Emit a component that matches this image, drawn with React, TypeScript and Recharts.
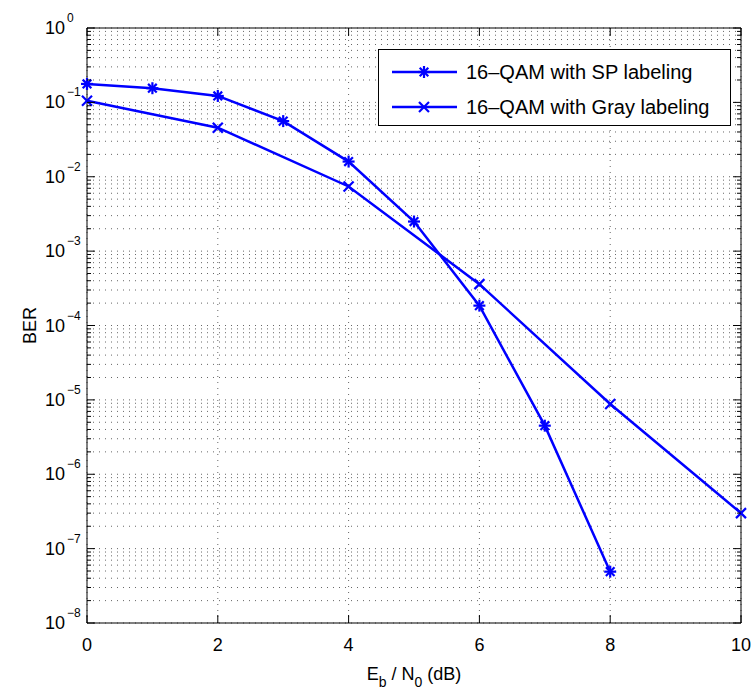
import React from "react";
import { LineChart, Line, XAxis, YAxis, CartesianGrid, Legend } from "recharts";

// Eb/N0 (dB) and BER
const spSnr = [0, 1, 2, 3, 4, 5, 6, 7, 8];
const spBer = [0.177, 0.155, 0.122, 0.056, 0.016, 0.0025, 1.85e-4, 4.5e-6, 4.9e-8];
const graySnr = [0, 2, 4, 6, 8, 10];
const grayBer = [0.105, 0.0457, 0.0074, 3.6e-4, 8.8e-6, 3.0e-7];

const seriesNames = ["16–QAM with SP labeling", "16–QAM with Gray labeling"];
const xTicks = [0, 2, 4, 6, 8, 10];
const yExponents = [-8, -7, -6, -5, -4, -3, -2, -1, 0];
const minorMantissas = [1, 2, 3, 4, 5, 6, 7, 8, 9];

const BLUE = "#0000ff";
const FONT = "'Liberation Sans', Arial, Helvetica, sans-serif";

const spData = spSnr.map((x, i) => ({ x, ber: spBer[i] }));
const grayData = graySnr.map((x, i) => ({ x, ber: grayBer[i] }));

// every log tick: 1..9 x 10^k, plus the top decade
const yTicks: number[] = [];
yExponents.forEach((e) => {
  if (e === 0) {
    yTicks.push(1);
    return;
  }
  minorMantissas.forEach((m) => yTicks.push(Number(`${m}e${e}`)));
});

const decadeOf = (v: number) => {
  const l = Math.log10(v);
  return Math.abs(l - Math.round(l)) < 1e-6 ? Math.round(l) : null;
};

function Asterisk({ cx, cy, r = 6 }: { cx: number; cy: number; r?: number }) {
  const d = r * 0.72;
  return (
    <g stroke={BLUE} strokeWidth={2.2}>
      <line x1={cx} y1={cy - r} x2={cx} y2={cy + r} />
      <line x1={cx - r} y1={cy} x2={cx + r} y2={cy} />
      <line x1={cx - d} y1={cy - d} x2={cx + d} y2={cy + d} />
      <line x1={cx - d} y1={cy + d} x2={cx + d} y2={cy - d} />
    </g>
  );
}

function Cross({ cx, cy, r = 5 }: { cx: number; cy: number; r?: number }) {
  return (
    <g stroke={BLUE} strokeWidth={2.2}>
      <line x1={cx - r} y1={cy - r} x2={cx + r} y2={cy + r} />
      <line x1={cx - r} y1={cy + r} x2={cx + r} y2={cy - r} />
    </g>
  );
}

function LeftTick(props: any) {
  const { x, y, payload } = props;
  const dec = decadeOf(payload.value);
  const major = dec !== null;
  return (
    <g>
      <line x1={x} x2={x + (major ? 8 : 4)} y1={y} y2={y} stroke="#000" />
      {major && (
        <g fontFamily={FONT} fill="#000">
          <text x={x - 22} y={y} textAnchor="end" dominantBaseline="central" fontSize={18}>
            10
          </text>
          <text x={x - 20} y={y - 10} textAnchor="start" dominantBaseline="central" fontSize={12}>
            {dec < 0 ? `−${-dec}` : `${dec}`}
          </text>
        </g>
      )}
    </g>
  );
}

function RightTick(props: any) {
  const { x, y, payload } = props;
  const major = decadeOf(payload.value) !== null;
  return <line x1={x} x2={x - (major ? 8 : 4)} y1={y} y2={y} stroke="#000" />;
}

function BottomTick(props: any) {
  const { x, y, payload } = props;
  return (
    <g>
      <line x1={x} x2={x} y1={y} y2={y - 8} stroke="#000" />
      <text x={x} y={y + 22} textAnchor="middle" dominantBaseline="central" fontSize={18} fontFamily={FONT} fill="#000">
        {payload.value}
      </text>
    </g>
  );
}

function TopTick(props: any) {
  const { x, y } = props;
  return <line x1={x} x2={x} y1={y} y2={y + 8} stroke="#000" />;
}

function XTitle(props: any) {
  const { x, y, width } = props.viewBox;
  return (
    <text x={x + width / 2} y={y + 57} textAnchor="middle" fontSize={18} fontFamily={FONT} fill="#000">
      <tspan>E</tspan>
      <tspan fontSize={14} dy={7}>b</tspan>
      <tspan dy={-7}> / N</tspan>
      <tspan fontSize={14} dy={7}>0</tspan>
      <tspan dy={-7}> (dB)</tspan>
    </text>
  );
}

function YTitle(props: any) {
  const { x, y, height } = props.viewBox;
  const cx = x + 30;
  const cy = y + height / 2;
  return (
    <text x={cx} y={cy} transform={`rotate(-90 ${cx} ${cy})`} textAnchor="middle" dominantBaseline="central" fontSize={18} fontFamily={FONT} fill="#000">
      BER
    </text>
  );
}

function LegendBox() {
  const rows = [
    { name: seriesNames[0], Mark: Asterisk, y: 23 },
    { name: seriesNames[1], Mark: Cross, y: 58 },
  ];
  return (
    <svg width={354} height={78} style={{ display: "block" }}>
      <rect x={0.5} y={0.5} width={352} height={76} fill="#fff" stroke="#000" />
      {rows.map(({ name, Mark, y }) => (
        <g key={name}>
          <line x1={14} x2={79} y1={y} y2={y} stroke={BLUE} strokeWidth={2.5} />
          <Mark cx={46} cy={y} />
          <text x={88} y={y} dominantBaseline="central" fontSize={20} fontFamily={FONT} fill="#000">
            {name}
          </text>
        </g>
      ))}
    </svg>
  );
}

export default function App() {
  return (
    <div style={{ position: "absolute", left: 0, top: 0, fontFamily: FONT, background: "#fff" }}>
      <LineChart width={752} height={692} margin={{ top: 27, right: 10, bottom: 0, left: 0 }}>
        <CartesianGrid stroke="#666" strokeDasharray="1 5" />
        <XAxis
          type="number"
          dataKey="x"
          domain={[0, 10]}
          ticks={xTicks}
          interval={0}
          height={69}
          tickSize={0}
          tickMargin={0}
          tickLine={false}
          axisLine={{ stroke: "#000" }}
          tick={<BottomTick />}
          label={{ content: XTitle }}
        />
        <XAxis
          xAxisId="top"
          orientation="top"
          type="number"
          dataKey="x"
          domain={[0, 10]}
          ticks={xTicks}
          interval={0}
          height={1}
          tickSize={0}
          tickMargin={0}
          tickLine={false}
          axisLine={{ stroke: "#000" }}
          tick={<TopTick />}
        />
        <YAxis
          type="number"
          scale="log"
          domain={[1e-8, 1]}
          ticks={yTicks}
          interval={0}
          width={87}
          tickSize={0}
          tickMargin={0}
          tickLine={false}
          axisLine={{ stroke: "#000" }}
          tick={<LeftTick />}
          label={{ content: YTitle }}
        />
        <YAxis
          yAxisId="right"
          orientation="right"
          type="number"
          scale="log"
          domain={[1e-8, 1]}
          ticks={yTicks}
          interval={0}
          width={1}
          tickSize={0}
          tickMargin={0}
          tickLine={false}
          axisLine={{ stroke: "#000" }}
          tick={<RightTick />}
        />
        <Legend
          layout="vertical"
          align="center"
          verticalAlign="middle"
          wrapperStyle={{ left: 378, top: 49 }}
          content={() => <LegendBox />}
        />
        {/* both x axes and both y axes share one domain; each series is bound
            to one of the mirrored axes so that the box edges get drawn */}
        <Line
          data={spData}
          dataKey="ber"
          yAxisId="right"
          name={seriesNames[0]}
          stroke={BLUE}
          strokeWidth={2.5}
          isAnimationActive={false}
          activeDot={false}
          dot={(p: any) => <Asterisk key={`sp-${p.index}`} cx={p.cx} cy={p.cy} />}
        />
        <Line
          data={grayData}
          dataKey="ber"
          xAxisId="top"
          name={seriesNames[1]}
          stroke={BLUE}
          strokeWidth={2.5}
          isAnimationActive={false}
          activeDot={false}
          dot={(p: any) => <Cross key={`gr-${p.index}`} cx={p.cx} cy={p.cy} />}
        />
      </LineChart>
    </div>
  );
}
